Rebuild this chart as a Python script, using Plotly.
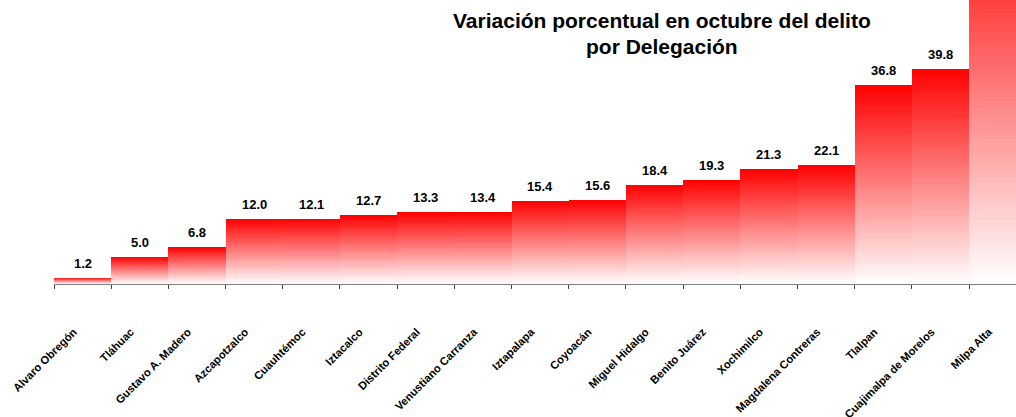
import plotly.graph_objects as go

delegaciones = ["Alvaro Obregón", "Tláhuac", "Gustavo A. Madero", "Azcapotzalco", "Cuauhtémoc",
                "Iztacalco", "Distrito Federal", "Venustiano Carranza", "Iztapalapa", "Coyoacán",
                "Miguel Hidalgo", "Benito Juárez", "Xochimilco", "Magdalena Contreras", "Tlalpan",
                "Cuajimalpa de Morelos", "Milpa Alta"]
variacion = [1.2, 5.0, 6.8, 12.0, 12.1, 12.7, 13.3, 13.4, 15.4, 15.6, 18.4, 19.3, 21.3, 22.1,
             36.8, 39.8, 70.0]
titulo = ["Variación porcentual en octubre del delito", "por Delegación"]

N_SEG = 60  # vertical gradient slices (white at base -> red at top)
fig = go.Figure()
for k in range(N_SEG):
    t = (k + 0.5) / N_SEG
    g = int(round(255 * (1 - t)))
    fig.add_trace(go.Bar(
        x=delegaciones, y=[v / N_SEG for v in variacion],
        marker=dict(color=f"rgb(255,{g},{g})", line=dict(width=0)),
        hoverinfo="skip", showlegend=False))

for cat, v in zip(delegaciones, variacion):
    fig.add_annotation(x=cat, y=v, xref="x", yref="y", text=f"{v:.1f}", showarrow=False,
                       yanchor="bottom", yshift=5,
                       font=dict(family="Liberation Sans", size=13, color="black", weight="bold"))

PLOT_H = 284
for line, ypx in zip(titulo, [20, 46]):
    fig.add_annotation(x=(662 - 54) / 962, y=1 - ypx / PLOT_H, xref="paper", yref="paper",
                       text=f"<b>{line}</b>", showarrow=False, xanchor="center", yanchor="middle",
                       font=dict(family="Liberation Sans", size=21, color="black"))

fig.update_layout(
    width=1016, height=417,
    margin=dict(l=54, r=0, t=0, b=133, autoexpand=False),
    paper_bgcolor="white", plot_bgcolor="white",
    barmode="stack", bargap=0,
    showlegend=False,
)
fig.update_xaxes(
    type="category", range=[-0.5, 16.32], automargin=False,
    showline=True, linecolor="#808080", linewidth=1,
    ticks="outside", ticklen=4, tickcolor="#404040", tickson="boundaries",
    tickangle=-45, ticklabelstandoff=36, ticklabelshift=-9,
    tickfont=dict(family="Liberation Sans", size=11.2, color="black", weight="bold"),
    showgrid=False, zeroline=False, fixedrange=True,
)
fig.update_yaxes(range=[0, 52.6], visible=False, showgrid=False, zeroline=False,
                 automargin=False, fixedrange=True)

fig.write_html("out.html", config={"displayModeBar": False, "staticPlot": True},
               post_script="document.body.style.margin='0';")
